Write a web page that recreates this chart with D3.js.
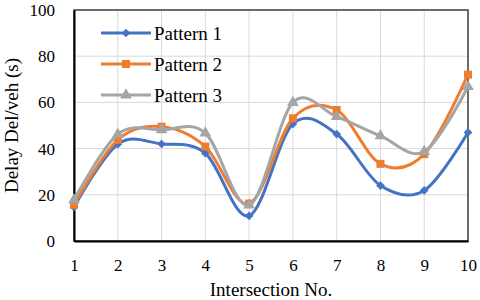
<!DOCTYPE html>
<html>
<head>
<meta charset="utf-8">
<script src="https://cdn.jsdelivr.net/npm/d3@7"></script>
<style>
  html, body { margin: 0; padding: 0; background: #fff; }
  svg { display: block; font-family: "Liberation Serif", "Times New Roman", serif; }
</style>
</head>
<body>
<div id="chart"></div>
<script>
// Delay per intersection, three signal patterns

// ---------- Data ----------
const intersections = [1, 2, 3, 4, 5, 6, 7, 8, 9, 10];
const pattern1 = [14.7, 41.9, 42, 38, 10.9, 50.7, 46.3, 24, 21.9, 47];
const pattern2 = [15.7, 43.8, 49.5, 40.9, 16.2, 53.1, 56.7, 33.4, 37.6, 72];
const pattern3 = [17.8, 46.2, 48.1, 46.7, 15.5, 59.9, 53.8, 45.5, 38.7, 66.8];
const seriesNames = ['Pattern 1', 'Pattern 2', 'Pattern 3'];
const yTicks = [0, 20, 40, 60, 80, 100];

const width = 480;
const height = 300;
const margin = { top: 10, right: 12, bottom: 59, left: 74 };

const colors = ['#4472C4', '#ED7D31', '#A5A5A5'];
const symbols = [d3.symbolDiamond2, d3.symbolSquare, d3.symbolTriangle];
const symbolSizes = [48, 64, 60];

const series = [pattern1, pattern2, pattern3].map((vals, k) => ({
  name: seriesNames[k],
  values: vals.map((v, idx) => ({ x: intersections[idx], y: v }))
}));

const svg = d3.select('#chart').append('svg')
  .attr('width', width)
  .attr('height', height);

const x = d3.scaleLinear()
  .domain([1, 10])
  .range([margin.left, width - margin.right]);

const y = d3.scaleLinear()
  .domain([0, 100])
  .range([height - margin.bottom, margin.top]);

// Gridlines
svg.append('g')
  .selectAll('line.hgrid')
  .data(yTicks)
  .join('line')
  .attr('x1', x(1)).attr('x2', x(10))
  .attr('y1', d => y(d)).attr('y2', d => y(d))
  .attr('stroke', '#d9d9d9').attr('stroke-width', 1);

svg.append('g')
  .selectAll('line.vgrid')
  .data(intersections)
  .join('line')
  .attr('x1', d => x(d)).attr('x2', d => x(d))
  .attr('y1', y(0)).attr('y2', y(100))
  .attr('stroke', '#d9d9d9').attr('stroke-width', 1);

// Plot border (top / right)
svg.append('rect')
  .attr('x', x(1)).attr('y', y(100))
  .attr('width', x(10) - x(1)).attr('height', y(0) - y(100))
  .attr('fill', 'none')
  .attr('stroke', '#404040')
  .attr('stroke-width', 1.5);

// Axes
const yAxis = svg.append('g')
  .attr('transform', `translate(${x(1)},0)`)
  .call(d3.axisLeft(y).tickValues(yTicks).tickSize(0).tickPadding(19));

const xAxis = svg.append('g')
  .attr('transform', `translate(0,${y(0)})`)
  .call(d3.axisBottom(x).tickValues(intersections).tickSize(0).tickPadding(18));

[xAxis, yAxis].forEach(ax => {
  ax.attr('font-family', '"Liberation Serif", serif').attr('font-size', 17);
  ax.select('.domain').attr('stroke', '#000').attr('stroke-width', 2);
  ax.selectAll('text').attr('fill', '#000');
});

// Lines
const line = d3.line()
  .x(d => x(d.x))
  .y(d => y(d.y))
  .curve(d3.curveCatmullRom.alpha(0));

series.forEach((s, k) => {
  svg.append('path')
    .datum(s.values)
    .attr('fill', 'none')
    .attr('stroke', colors[k])
    .attr('stroke-width', 3)
    .attr('stroke-linejoin', 'round')
    .attr('d', line);

  svg.append('g')
    .selectAll('path')
    .data(s.values)
    .join('path')
    .attr('transform', d => `translate(${x(d.x)},${y(d.y)})`)
    .attr('d', d3.symbol(symbols[k], symbolSizes[k]))
    .attr('fill', colors[k]);
});

// Legend
const legend = svg.append('g');
const legendY = [33, 64, 95];
series.forEach((s, k) => {
  legend.append('line')
    .attr('x1', 101).attr('x2', 151)
    .attr('y1', legendY[k]).attr('y2', legendY[k])
    .attr('stroke', colors[k]).attr('stroke-width', 3);
  legend.append('path')
    .attr('transform', `translate(126,${legendY[k]})`)
    .attr('d', d3.symbol(symbols[k], symbolSizes[k]))
    .attr('fill', colors[k]);
  legend.append('text')
    .attr('x', 154).attr('y', legendY[k])
    .attr('dy', '0.35em')
    .attr('font-size', 19)
    .text(s.name);
});

// Axis titles
svg.append('text')
  .attr('x', (x(1) + x(10)) / 2)
  .attr('y', 296)
  .attr('text-anchor', 'middle')
  .attr('font-size', 19)
  .text('Intersection No.');

svg.append('text')
  .attr('transform', `translate(18,${(y(0) + y(100)) / 2}) rotate(-90)`)
  .attr('text-anchor', 'middle')
  .attr('font-size', 19)
  .text('Delay Del/veh (s)');
</script>
</body>
</html>
